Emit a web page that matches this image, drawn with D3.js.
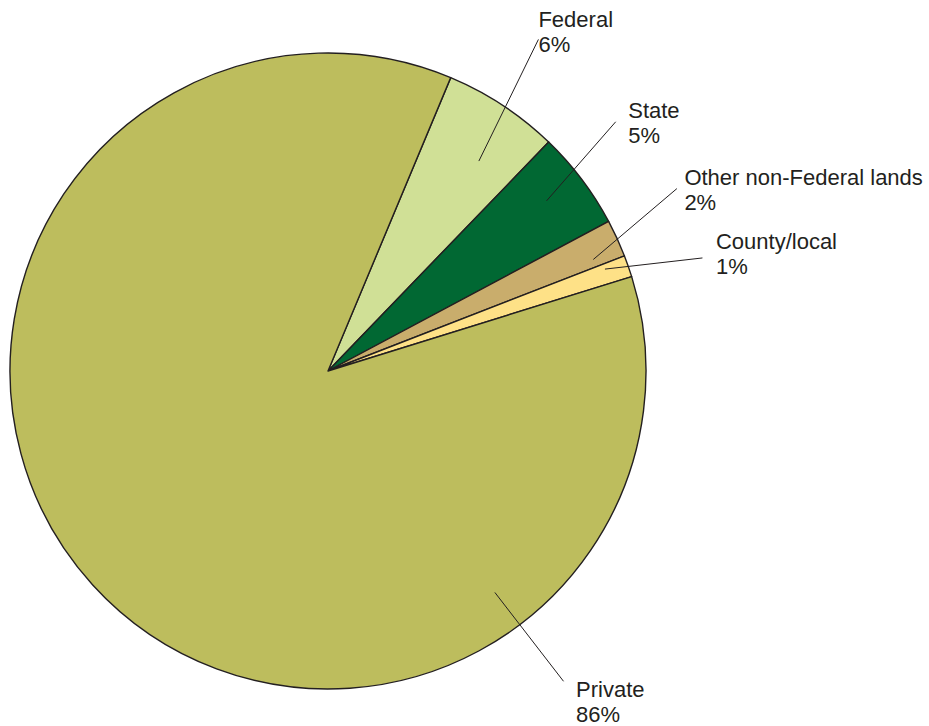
<!DOCTYPE html>
<html>
<head>
<meta charset="utf-8">
<script src="https://cdn.jsdelivr.net/npm/d3@7"></script>
<style>
  html, body { margin: 0; padding: 0; background: #ffffff; }
  svg { display: block; }
  text { font-family: "Liberation Sans", Arial, Helvetica, sans-serif; fill: #231f20; }
</style>
</head>
<body>
<svg id="chart" width="929" height="726"></svg>
<script>
// ---- data ----
const categories = ["Federal", "State", "Other non-Federal lands", "County/local", "Private"];
const values = [5.9, 5.0, 1.9, 1.1, 86.1];
const percentLabels = ["6%", "5%", "2%", "1%", "86%"];
const colors = ["#d0e096", "#016833", "#c9ad6c", "#fee187", "#bdbd5d"];

// ---- layout ----
const width = 929, height = 726;
const cx = 328, cy = 371, R = 318;
const startDeg = 22.7;
const toRad = d => d * Math.PI / 180;

// leader line anchors (angle in degrees clockwise from 12 o'clock, radius as fraction of R)
const leaderInner = [[35.7, 0.813], [52.1, 0.871], [67.2, 0.905], [69.8, 0.928], [143.0, 0.872]];
const leaderOuter = [[32.4, 1.235], [49.1, 1.197], [62.4, 1.238], [73.2, 1.230], [142.8, 1.225]];
const labelOffset = [[0, -12], [12.5, -3.5], [7.5, -3.5], [13.5, -8.5], [12.5, 15.5]];

const svg = d3.select("#chart");
const g = svg.append("g").attr("transform", `translate(${cx},${cy})`);

const pie = d3.pie().sort(null).value(d => d)
  .startAngle(toRad(startDeg)).endAngle(toRad(startDeg) + 2 * Math.PI);
const arc = d3.arc().innerRadius(0).outerRadius(R);
const arcs = pie(values);

g.selectAll("path.slice")
  .data(arcs)
  .join("path")
  .attr("class", "slice")
  .attr("d", arc)
  .attr("fill", (d, i) => colors[i])
  .attr("stroke", "#231f20")
  .attr("stroke-width", 1.4)
  .attr("stroke-linejoin", "round");

const polar = (deg, frac) => [Math.sin(toRad(deg)) * R * frac, -Math.cos(toRad(deg)) * R * frac];

categories.forEach((name, i) => {
  const p1 = polar(leaderInner[i][0], leaderInner[i][1]);
  const p2 = polar(leaderOuter[i][0], leaderOuter[i][1]);
  g.append("line")
    .attr("x1", p1[0]).attr("y1", p1[1])
    .attr("x2", p2[0]).attr("y2", p2[1])
    .attr("stroke", "#231f20")
    .attr("stroke-width", 1);
  const tx = p2[0] + labelOffset[i][0];
  const ty = p2[1] + labelOffset[i][1];
  const t = g.append("text")
    .attr("x", tx).attr("y", ty)
    .attr("font-size", 22);
  t.append("tspan").attr("x", tx).attr("dy", 0).text(name);
  t.append("tspan").attr("x", tx).attr("dy", 25).text(percentLabels[i]);
});
</script>
</body>
</html>
